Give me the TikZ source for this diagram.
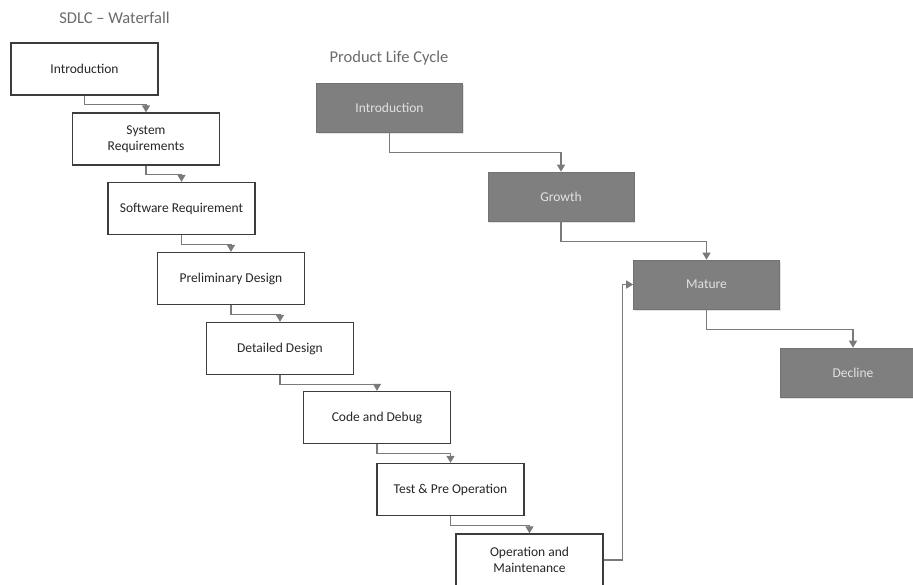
\documentclass[tikz,border=0pt]{standalone}
\usepackage{fontspec}
\setmainfont{Carlito}
\usetikzlibrary{arrows.meta,shadows}
\definecolor{lineg}{HTML}{7A7A7A}
\definecolor{boxline}{HTML}{3C3C3C}
\definecolor{plcfill}{HTML}{7F7F7F}
\definecolor{plctext}{HTML}{E2E2E2}
\definecolor{titleg}{HTML}{6A6A6A}
\tikzset{
  wbox/.style={draw=boxline, line width=1.4pt, fill=white, minimum width=147pt, minimum height=52pt,
    inner sep=0pt, align=center, text=black!85, font=\fontsize{13.5}{16}\selectfont},
  pbox/.style={draw=plcfill!90!black, line width=0.6pt, fill=plcfill, minimum width=146pt, minimum height=49pt,
    inner sep=0pt, align=center, text=plctext, font=\fontsize{13.5}{16}\selectfont,
    drop shadow={opacity=0.22, shadow xshift=1.2pt, shadow yshift=-2pt}},
  conn/.style={draw=lineg, line width=1.3pt, -{Triangle[width=8pt,length=7pt]}},
  ttl/.style={text=titleg, font=\fontsize{16.5}{18}\selectfont, inner sep=0pt}
}
\begin{document}
\begin{tikzpicture}[x=1pt,y=-1pt]
\useasboundingbox (0,0) rectangle (913,584);
\clip (0,0) rectangle (913,584);
% titles
\node[ttl] (t1) at (114.5,18) {SDLC – Waterfall};
\node[ttl] (t2) at (389,58) {Product Life Cycle};
% waterfall boxes
\node[wbox] (b1) at (84.5,69) {Introduction};
\node[wbox] (b2) at (146,139) {System\\Requirements};
\node[wbox] (b3) at (181.5,208.5) {Software Requirement};
\node[wbox] (b4) at (231,278.5) {Preliminary Design};
\node[wbox] (b5) at (280,348.5) {Detailed Design};
\node[wbox] (b6) at (377,417.5) {Code and Debug};
\node[wbox] (b7) at (450.5,489.5) {Test \& Pre Operation};
\node[wbox] (b8) at (529.5,560) {Operation and\\Maintenance};
% product life cycle boxes
\node[pbox] (p1) at (389.5,107.5) {Introduction};
\node[pbox] (p2) at (561,196.5) {Growth};
\node[pbox] (p3) at (706.5,284.5) {Mature};
\node[pbox] (p4) at (853,372.5) {Decline};
% waterfall connectors
\draw[conn] (b1.south) -- ++(0,9) -| (b2.north);
\draw[conn] (b2.south) -- ++(0,9) -| (b3.north);
\draw[conn] (b3.south) -- ++(0,9) -| (b4.north);
\draw[conn] (b4.south) -- ++(0,9) -| (b5.north);
\draw[conn] (b5.south) -- ++(0,9) -| (b6.north);
\draw[conn] (b6.south) -- ++(0,9.5) -| (b7.north);
\draw[conn] (b7.south) -- ++(0,9) -| (b8.north);
% PLC connectors
\draw[conn] (p1.south) -- ++(0,20) -| (p2.north);
\draw[conn] (p2.south) -- ++(0,20) -| (p3.north);
\draw[conn] (p3.south) -- ++(0,20) -| (p4.north);
% feedback
\draw[conn] (b8.east) -- ++(19,0) |- (p3.west);
\end{tikzpicture}
\end{document}
